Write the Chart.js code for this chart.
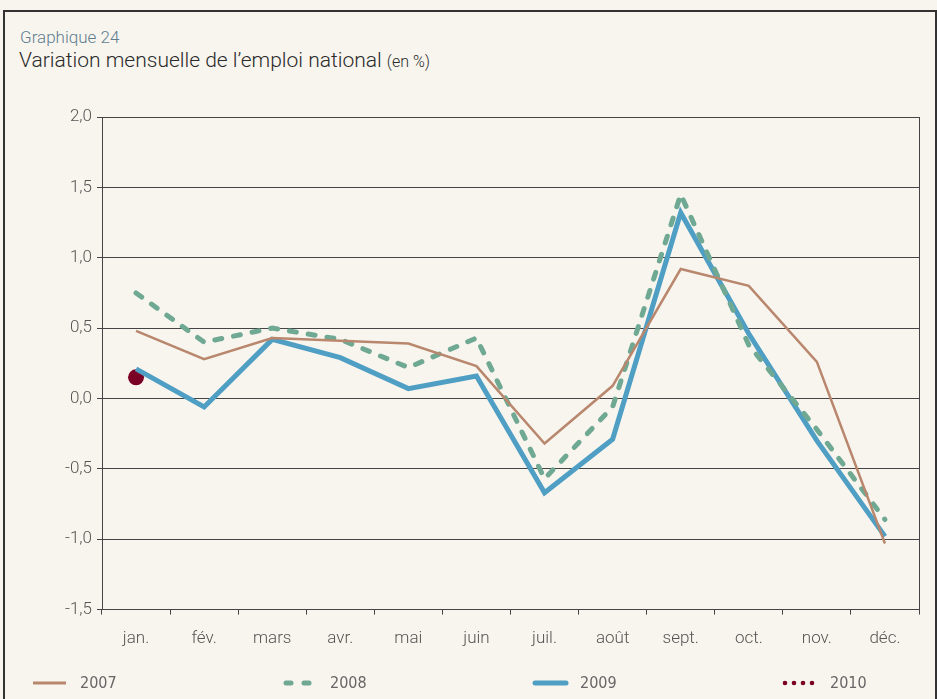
<!DOCTYPE html>
<html>
<head>
<meta charset="utf-8">
<script src="https://cdn.jsdelivr.net/npm/chart.js@4.4.0/dist/chart.umd.min.js"></script>
<style>
  html, body { margin: 0; padding: 0; background: #f8f5ee; }
  #wrap { position: relative; width: 937px; height: 699px; overflow: hidden; background: #f8f5ee; }
  #frame { position: absolute; left: 3px; top: 10px; width: 930px; height: 700px;
           border-top: 2px solid #333; border-left: 2px solid #333; border-right: 2px solid #333; }
  #sup { position: absolute; left: 20px; top: 27px; font: 300 17px Roboto, sans-serif; color: #5f7d91; }
  #ttl { position: absolute; left: 19px; top: 48px; font: 300 21px Roboto, sans-serif; color: #2a2a2a; }
  #ttl small { font-size: 16px; }
  canvas { position: absolute; left: 0; top: 0; }
</style>
</head>
<body>
<div id="wrap">
  <div id="frame"></div>
  <div id="sup">Graphique 24</div>
  <div id="ttl">Variation mensuelle de l’emploi national <small>(en %)</small></div>
  <canvas id="chart" width="937" height="699"></canvas>
</div>
<script>
var months = ["jan.", "fév.", "mars", "avr.", "mai", "juin", "juil.", "août", "sept.", "oct.", "nov.", "déc."];
var y2007 = [0.48, 0.28, 0.43, 0.41, 0.39, 0.23, -0.32, 0.09, 0.92, 0.80, 0.26, -1.03];
var y2008 = [0.75, 0.40, 0.50, 0.42, 0.22, 0.43, -0.57, -0.06, 1.45, 0.38, -0.22, -0.86];
var y2009 = [0.21, -0.06, 0.42, 0.29, 0.07, 0.16, -0.67, -0.29, 1.32, 0.46, -0.30, -0.98];
var y2010 = [0.15];
var yTicks = [-1.5, -1.0, -0.5, 0.0, 0.5, 1.0, 1.5, 2.0];

// right border of the plot + custom legend row at the bottom
var extras = {
  id: 'extras',
  afterDraw: function(chart) {
    var ctx = chart.ctx, a = chart.chartArea;
    ctx.save();
    ctx.strokeStyle = '#444';
    ctx.lineWidth = 1;
    ctx.beginPath();
    ctx.moveTo(a.right + 0.5, a.top);
    ctx.lineTo(a.right + 0.5, a.bottom);
    ctx.stroke();

    var y = 683;
    chart.data.datasets.forEach(function(ds, i) {
      var x0 = 33 + i * 250;
      ctx.strokeStyle = ds.borderColor;
      ctx.fillStyle = ds.borderColor;
      if (ds.label === '2010') {
        for (var k = 0; k < 4; k++) {
          ctx.beginPath();
          ctx.arc(x0 + 2 + k * 9, y, 2.3, 0, Math.PI * 2);
          ctx.fill();
        }
      } else if (ds.label === '2008') {
        ctx.lineWidth = 5;
        ctx.lineCap = 'round';
        ctx.beginPath();
        ctx.moveTo(x0 + 3, y); ctx.lineTo(x0 + 8, y);
        ctx.stroke();
        ctx.beginPath();
        ctx.moveTo(x0 + 21, y); ctx.lineTo(x0 + 26, y);
        ctx.stroke();
      } else {
        ctx.lineWidth = ds.label === '2009' ? 5 : 3;
        ctx.lineCap = ds.label === '2009' ? 'round' : 'butt';
        ctx.beginPath();
        ctx.moveTo(x0 + (ds.label === '2009' ? 2 : 0), y);
        ctx.lineTo(x0 + 33, y);
        ctx.stroke();
      }
      ctx.fillStyle = '#666';
      ctx.font = '16px "Liberation Sans Narrow", "DejaVu Sans Condensed", sans-serif';
      ctx.textBaseline = 'middle';
      ctx.fillText(ds.label, x0 + 47, y + 1);
    });
    ctx.restore();
  }
};

new Chart(document.getElementById('chart'), {
  type: 'line',
  data: {
    labels: months,
    datasets: [
      { label: '2007', data: y2007, borderColor: '#b8876e', borderWidth: 2.5, pointRadius: 0, tension: 0 },
      { label: '2008', data: y2008, borderColor: '#6fa893', borderWidth: 5, borderDash: [7, 12],
        borderCapStyle: 'round', pointRadius: 0, tension: 0 },
      { label: '2009', data: y2009, borderColor: '#4f9ec4', borderWidth: 5, pointRadius: 0, tension: 0 },
      { label: '2010', data: y2010, borderColor: '#7b0025', backgroundColor: '#7b0025',
        pointRadius: 8, pointBorderWidth: 0, showLine: false }
    ]
  },
  options: {
    responsive: false,
    animation: false,
    layout: { padding: { left: 0, right: 18, top: 117, bottom: 36 } },
    plugins: { legend: { display: false }, title: { display: false }, tooltip: { enabled: false } },
    scales: {
      x: {
        offset: true,
        grid: { offset: true, drawOnChartArea: false, drawTicks: true, tickLength: 5, color: '#444' },
        border: { color: '#444' },
        ticks: { color: '#555', font: { family: 'Roboto', size: 17, weight: '300' }, padding: 14 }
      },
      y: {
        min: -1.5, max: 2.0,
        afterBuildTicks: function(axis) { axis.ticks = yTicks.map(function(v) { return { value: v }; }); },
        grid: { color: '#444', lineWidth: 1, tickLength: 5 },
        border: { color: '#444' },
        ticks: {
          color: '#555', font: { family: 'Roboto', size: 17, weight: '300' }, padding: 5,
          callback: function(v) { return v.toFixed(1).replace('.', ','); }
        },
        afterFit: function(axis) { axis.width = 102; }
      }
    }
  },
  plugins: [extras]
});
</script>
</body>
</html>
